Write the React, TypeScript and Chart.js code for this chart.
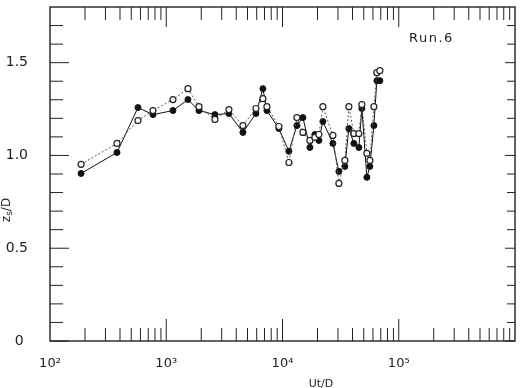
import React, { useEffect, useRef } from 'react';
import { Chart, registerables } from 'chart.js';

Chart.register(...registerables);

// Ut/D (x, log scale)
const utD = [185, 377, 571, 769, 1142, 1537, 1911, 2622, 3460, 4565, 5906, 6784, 7344, 9312, 11350, 13300, 14980, 17200, 18990, 20560, 22250, 27130, 30550, 34400, 37230, 41110, 45390, 48170, 53190, 56440, 61100, 64820, 68780];
// zs/D, open circles
const openZs = [0.952, 1.065, 1.188, 1.242, 1.301, 1.360, 1.263, 1.194, 1.247, 1.161, 1.253, 1.306, 1.263, 1.156, 0.962, 1.204, 1.124, 1.081, 1.097, 1.113, 1.263, 1.108, 0.849, 0.973, 1.263, 1.118, 1.118, 1.274, 1.011, 0.973, 1.263, 1.446, 1.457];
// zs/D, filled circles
const filledZs = [0.903, 1.016, 1.258, 1.220, 1.242, 1.301, 1.242, 1.220, 1.226, 1.124, 1.226, 1.360, 1.242, 1.145, 1.022, 1.161, 1.204, 1.043, 1.113, 1.081, 1.183, 1.065, 0.914, 0.941, 1.145, 1.065, 1.043, 1.253, 0.882, 0.941, 1.161, 1.403, 1.403];

const xTickValues = [100, 1000, 10000, 100000];
const xTickLabels = ['10²', '10³', '10⁴', '10⁵'];
const xDecades = [100, 1000, 10000, 100000];
const xMinorMultipliers = [2, 3, 4, 5, 6, 7, 8, 9];
const yTickValues = [0, 0.5, 1.0, 1.5];
const yTickLabels = ['0 ', '0.5', '1.0', '1.5'];
const yMinorTicks = [0.1, 0.2, 0.3, 0.4, 0.6, 0.7, 0.8, 0.9, 1.1, 1.2, 1.3, 1.4, 1.6, 1.7];

const FONT = '"DejaVu Sans", sans-serif';

const framePlugin = {
  id: 'frame',
  afterDraw(chart: any) {
    const { ctx, chartArea: a, scales } = chart;
    const xs = scales.x;
    const ys = scales.y;
    ctx.save();
    ctx.strokeStyle = '#222';
    ctx.lineWidth = 1.4;
    ctx.strokeRect(a.left, a.top, a.right - a.left, a.bottom - a.top);
    ctx.lineWidth = 1;
    const line = (x1: number, y1: number, x2: number, y2: number) => {
      ctx.beginPath();
      ctx.moveTo(x1, y1);
      ctx.lineTo(x2, y2);
      ctx.stroke();
    };
    yTickValues.forEach((v) => {
      const py = ys.getPixelForValue(v);
      line(a.left, py, a.left + 19, py);
      line(a.right, py, a.right - 10, py);
    });
    yMinorTicks.forEach((v) => {
      const py = ys.getPixelForValue(v);
      line(a.left, py, a.left + 13, py);
      line(a.right, py, a.right - 8, py);
    });
    xDecades.forEach((d) => {
      const px = xs.getPixelForValue(d);
      if (px > a.left + 1) {
        line(px, a.bottom, px, a.bottom - 22);
        line(px, a.top, px, a.top + 20);
      }
      xMinorMultipliers.forEach((m) => {
        const qx = xs.getPixelForValue(d * m);
        line(qx, a.bottom, qx, a.bottom - 13);
        line(qx, a.top, qx, a.top + 13);
      });
    });
    ctx.fillStyle = '#222';
    ctx.font = `13px ${FONT}`;
    (ctx as any).letterSpacing = '1.5px';
    ctx.textAlign = 'left';
    ctx.textBaseline = 'middle';
    ctx.fillText('Run.6', 409, 39);
    (ctx as any).letterSpacing = '0px';
    ctx.font = `11px ${FONT}`;
    ctx.textAlign = 'center';
    ctx.fillText('Ut/D', 321, 384);
    ctx.translate(7, 210);
    ctx.rotate(-Math.PI / 2);
    ctx.textAlign = 'left';
    ctx.font = `12px ${FONT}`;
    const w1 = ctx.measureText('z').width;
    ctx.font = `9px ${FONT}`;
    const w2 = ctx.measureText('s').width;
    ctx.font = `12px ${FONT}`;
    const w3 = ctx.measureText('/D').width;
    let sx = -(w1 + w2 + w3) / 2;
    ctx.fillText('z', sx, 0);
    sx += w1;
    ctx.font = `9px ${FONT}`;
    ctx.fillText('s', sx, 3);
    sx += w2;
    ctx.font = `12px ${FONT}`;
    ctx.fillText('/D', sx, 0);
    ctx.restore();
  },
};

export default function App() {
  const ref = useRef<HTMLCanvasElement | null>(null);
  useEffect(() => {
    if (!ref.current) return;
    const chart = new Chart(ref.current, {
      type: 'line',
      data: {
        datasets: [
          {
            label: 'open',
            data: utD.map((x, i) => ({ x, y: openZs[i] })),
            borderColor: '#555',
            borderWidth: 1,
            borderDash: [2, 2],
            pointStyle: 'circle',
            pointRadius: 3,
            pointBorderWidth: 1.2,
            pointBackgroundColor: '#fff',
            pointBorderColor: '#222',
            tension: 0,
          },
          {
            label: 'filled',
            data: utD.map((x, i) => ({ x, y: filledZs[i] })),
            borderColor: '#111',
            borderWidth: 1,
            pointStyle: 'circle',
            pointRadius: 3,
            pointBorderWidth: 1,
            pointBackgroundColor: '#111',
            pointBorderColor: '#111',
            tension: 0,
          },
        ],
      },
      options: {
        responsive: false,
        animation: false,
        layout: { padding: { top: 7, right: 6, left: 0, bottom: 0 } },
        plugins: { legend: { display: false }, tooltip: { enabled: false }, title: { display: false } },
        scales: {
          x: {
            type: 'logarithmic',
            min: 100,
            max: 1000000,
            grid: { display: false, drawTicks: false },
            border: { display: false },
            afterBuildTicks: (s: any) => {
              s.ticks = xTickValues.map((v) => ({ value: v }));
            },
            afterFit: (s: any) => {
              s.height = 47;
              s.paddingLeft = 0;
              s.paddingRight = 0;
              s.paddingTop = 0;
              s.paddingBottom = 0;
            },
            ticks: {
              autoSkip: false,
              maxRotation: 0,
              padding: 15,
              color: '#222',
              font: { family: FONT, size: 13 },
              callback: (v: any) => {
                const i = xTickValues.indexOf(Number(v));
                return i >= 0 ? xTickLabels[i] : '';
              },
            },
          },
          y: {
            min: 0,
            max: 1.8,
            grid: { display: false, drawTicks: false },
            border: { display: false },
            afterBuildTicks: (s: any) => {
              s.ticks = yTickValues.map((v) => ({ value: v }));
            },
            afterFit: (s: any) => {
              s.width = 50;
              s.paddingLeft = 0;
              s.paddingRight = 0;
              s.paddingTop = 0;
              s.paddingBottom = 0;
            },
            ticks: {
              autoSkip: false,
              padding: 22,
              color: '#222',
              font: { family: FONT, size: 14 },
              callback: (v: any) => {
                const i = yTickValues.indexOf(Number(v));
                return i >= 0 ? yTickLabels[i] : '';
              },
            },
          },
        },
      },
      plugins: [framePlugin],
    } as any);
    return () => chart.destroy();
  }, []);
  return (
    <div style={{ position: 'fixed', left: 0, top: 0, width: 521, height: 388, background: '#fff' }}>
      <canvas ref={ref} width={521} height={388} style={{ display: 'block', width: 521, height: 388 }} />
    </div>
  );
}
